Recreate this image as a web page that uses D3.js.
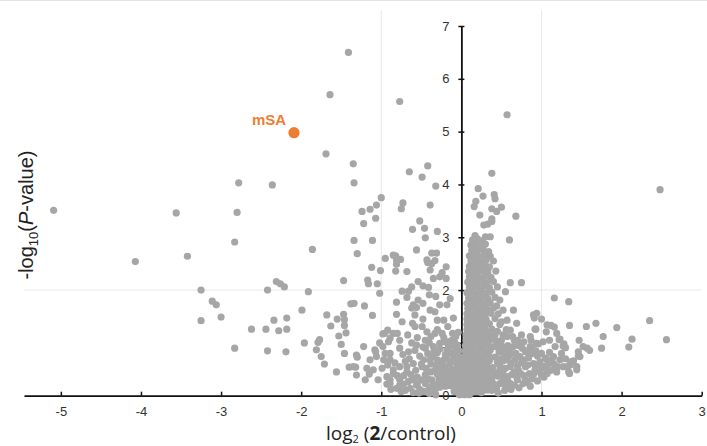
<!DOCTYPE html>
<html lang="en">
<head>
<meta charset="UTF-8">
<title>Volcano plot</title>
<style>
  body { margin: 0; background: #fff; }
  svg { display: block; }
</style>
</head>
<body>
<svg width="707" height="446"></svg>
<script src="https://d3js.org/d3.v7.min.js"></script>
<script>

const xTicks = [-5, -4, -3, -2, -1, 0, 1, 2, 3];
const yTicks = [0, 1, 2, 3, 4, 5, 6, 7];
const cutX = [-1, 1];   // vertical guide lines
const cutY = [2];       // horizontal guide line

// labelled protein
const labelled = [["mSA", -2.09, 4.98]];

// [log2 ratio, -log10 P]
const farPoints = [
  [-5.09,3.51],[-4.07,2.54],[-3.56,3.46],[-3.42,2.64],[-2.80,3.47],[-2.78,4.03],[-2.83,2.91],[-2.36,3.99],
  [-3.25,2.00],[-3.11,1.79],[-3.06,1.72],[-3.00,1.49],[-3.25,1.42],[-2.83,0.90],
  [-2.62,1.26],[-2.44,1.26],[-2.28,1.23],[-2.18,1.26],[-2.42,2.00],[-2.31,2.16],[-2.26,2.12],[-2.21,2.06],
  [-2.34,1.43],[-2.18,1.47],[-2.42,0.85],[-2.19,0.83],
  [-1.41,6.50],[-1.64,5.70],[-1.69,4.58],[-1.35,4.39],[-1.34,4.03],[-0.77,5.57],[0.57,5.32],[2.48,3.90]
];

const midLeftPoints = [
  [-1.86,2.77],[-1.91,1.97],[-1.99,1.62],[-1.96,1.00],[-1.77,1.06],[-1.79,1.01],[-1.81,0.87],[-1.75,0.74],
  [-1.71,0.60],[-1.68,1.53],[-1.63,1.32],[-1.55,1.45],[-1.53,1.13],[-1.56,0.45],[-1.50,0.97],[-1.46,0.80],
  [-1.47,1.54],[-1.46,1.44],[-1.46,1.33],[-1.44,1.19],[-1.47,2.18],[-1.38,1.74],[-1.40,0.54],[-1.34,2.94],
  [-1.30,2.69],[-1.32,0.54],[-1.31,0.39],[-1.30,0.73],
  [-1.00,3.75],[-1.06,3.61],[-1.14,3.53],[-1.24,3.49],[-1.07,3.36],[-1.22,3.26],[-1.11,2.94],[-0.95,2.60],
  [-1.12,2.43],[-1.01,2.37],[-1.17,2.19],[-1.16,2.12],[-1.05,2.12],[-1.02,1.94],[-1.34,1.75],[-1.21,1.70],
  [-1.11,1.52],[-1.22,0.93],[-1.08,0.87],[-0.98,0.93],[-1.31,0.77],[-1.14,0.68],[-1.06,0.74],[-0.97,0.68],
  [-1.35,0.55],[-1.18,0.52],[-1.10,0.49],[-0.99,0.52],[-0.93,0.36],[-1.15,0.41],[-1.07,0.83],[-1.02,1.00],
  [-0.96,1.18],[-0.92,1.24],[-0.98,1.17],[-0.93,0.22],[-1.04,0.30],[-1.20,0.30]
];

const nearLeftPoints = [
  [-0.73,3.65],[-0.75,3.54],[-0.65,4.24],[-0.49,4.14],[-0.42,4.35],[-0.32,3.97],[-0.39,3.61],[-0.52,3.31],
  [-0.61,3.15],[-0.46,3.17],[-0.30,3.11],[-0.45,2.99],[-0.56,2.76],[-0.37,2.70],[-0.31,2.70],
  [-0.43,2.57],[-0.33,2.56],[-0.42,2.52],[-0.37,2.50],[-0.19,2.44],[-0.82,2.65],[-0.81,2.57],[-0.76,2.58],
  [-0.81,2.49],[-0.85,2.66],[-0.68,2.35],[-0.82,2.36],[-0.39,2.38],[-0.27,2.25],[-0.24,2.33],[-0.19,2.22],
  [-0.35,2.22],[-0.74,1.98],[-0.66,1.98],[-0.62,2.06],[-0.54,2.16],[-0.48,2.08],[-0.41,2.05],[-0.54,1.81],
  [-0.68,1.86],[-0.48,1.75],[-0.56,1.67],[-0.40,1.91],[-0.32,1.88],[-0.39,1.62],[-0.27,1.72],[-0.18,1.72],
  [-0.14,1.84],[-0.10,1.47],[-0.17,1.31],[-0.11,1.18],[-0.22,1.43],[-0.30,1.43],[-0.33,1.59],[-0.81,1.77],
  [-0.81,1.54],[-0.74,1.40],[-0.62,1.66],[-0.60,1.72],[-0.58,1.53],[-0.61,1.37],[-0.85,1.18],[-0.89,1.09],
  [-0.77,1.05],[-0.67,1.15],[-0.58,1.31],[-0.49,1.31],[-0.43,1.21],[-0.33,1.18],[-0.24,1.18],[-0.17,1.02],
  [-0.80,1.18],[-0.91,1.02],[-0.89,0.80],[-0.77,0.90],[-0.66,0.83],[-0.56,0.96],[-0.45,0.90],[-0.35,0.93],
  [-0.27,0.99],[-0.18,0.87],[-0.12,0.80],[-0.85,0.42],[-0.77,0.55],[-0.68,0.45],[-0.60,0.61],[-0.49,0.55],
  [-0.39,0.68],[-0.31,0.58],[-0.22,0.68],[-0.14,0.61],[-0.08,0.74],[-0.89,0.23],[-0.77,0.20],[-0.66,0.27],
  [-0.56,0.20],[-0.45,0.23],[-0.37,0.30],[-0.29,0.23],[-0.20,0.33],[-0.14,0.19],[-0.08,0.27],[-0.06,0.14],
  [0.00,0.08],[-0.09,0.08],[-0.89,0.68],[-0.85,0.49],[-0.89,0.30],[-0.77,0.30],[-0.60,0.30],[-0.64,0.14],
  [-0.81,0.14],[-0.70,0.65],[-0.72,0.38],[-0.52,0.75],[-0.62,1.00],[-0.55,1.10],[-0.45,1.05],[-0.38,1.12],
  [-0.30,1.25],[-0.48,1.45],[-0.05,0.95],[-0.03,0.85],[-0.08,0.90],[-0.02,0.72],[-0.05,0.60],[-0.10,0.50],
  [-0.04,0.45],[-0.18,0.45],[-0.25,0.50],[-0.12,0.35],[-0.02,0.32],[-0.06,0.20],[-0.20,0.18],[-0.27,0.16],
  [-0.33,0.10],[-0.40,0.15],[-0.47,0.08],[-0.52,0.12],[-0.30,0.40],[-0.38,0.45],[-0.45,0.40],[-0.55,0.35],
  [-0.50,0.60],[-0.42,0.80],[-0.30,0.82],[-0.20,0.78],[-0.12,1.05],[-0.07,1.12],[-0.04,1.20],[-0.35,0.75],
  [-0.28,0.62],[-0.15,0.27],[-0.03,0.03],[-0.60,0.06],[-0.70,0.10],
  [-0.40,0.04],[-0.02,0.58],[-0.15,0.95],[-0.22,1.10],[-0.10,0.68],
  [-0.95,0.80],[-0.92,0.58],[-0.88,0.12],[-0.83,0.62],[-0.80,0.38],[-0.75,0.08],[-0.73,0.78],[-0.72,0.22],
  [-0.68,0.55],[-0.65,0.70],[-0.63,0.40],[-0.58,0.86],[-0.57,0.48],[-0.55,0.22],[-0.53,0.05],[-0.50,0.30],
  [-0.48,0.92],[-0.47,0.68],[-0.44,0.52],[-0.42,0.32],[-0.40,1.00],[-0.38,0.60],[-0.36,0.20],[-0.34,0.85],
  [-0.33,0.48],[-0.32,0.02],[-0.30,0.68],[-0.28,0.30],[-0.27,0.88],[-0.25,0.40],[-0.24,0.58],[-0.23,0.25],
  [-0.21,1.02],[-0.20,0.55],[-0.18,0.70],[-0.17,0.35],[-0.15,0.82],[-0.13,0.48],
  [-0.11,0.65],[-0.09,0.40],[-0.08,1.00],[-0.07,0.30],[-0.06,0.80],[-0.04,0.55],[-0.03,0.68],
  [-0.02,0.22],[-0.01,0.40]
];

const columnPoints = [
  [0.14,2.95],[0.20,2.97],[0.26,2.93],
  [0.12,2.85],[0.18,2.86],[0.24,2.83],[0.30,2.87],
  [0.13,2.75],[0.20,2.74],[0.27,2.77],[0.34,2.73],
  [0.10,2.65],[0.16,2.66],[0.22,2.63],[0.28,2.66],[0.36,2.64],
  [0.12,2.55],[0.19,2.56],[0.25,2.53],[0.31,2.57],[0.40,2.55],
  [0.10,2.45],[0.16,2.46],[0.22,2.43],[0.29,2.47],[0.35,2.44],
  [0.09,2.35],[0.15,2.36],[0.21,2.33],[0.27,2.37],[0.33,2.34],[0.43,2.36],
  [0.10,2.25],[0.17,2.26],[0.23,2.23],[0.30,2.27],[0.37,2.24],
  [0.08,2.15],[0.14,2.16],[0.20,2.13],[0.26,2.17],[0.32,2.14],[0.40,2.16],
  [0.10,2.05],[0.16,2.06],[0.22,2.03],[0.28,2.07],[0.35,2.04],[0.45,2.06],
  [0.07,1.95],[0.13,1.96],[0.19,1.93],[0.25,1.97],[0.31,1.94],[0.38,1.96],
  [0.09,1.85],[0.15,1.86],[0.21,1.83],[0.27,1.87],[0.33,1.84],[0.42,1.86],
  [0.07,1.75],[0.12,1.76],[0.18,1.73],[0.24,1.77],[0.30,1.74],[0.36,1.76],
  [0.08,1.65],[0.14,1.66],[0.20,1.63],[0.26,1.67],[0.32,1.64],[0.40,1.66],
  [0.07,1.55],[0.12,1.56],[0.18,1.53],[0.24,1.57],[0.30,1.54],[0.37,1.56],[0.46,1.55],
  [0.07,1.45],[0.13,1.46],[0.19,1.43],[0.25,1.47],[0.31,1.44],[0.42,1.46],
  [0.07,1.35],[0.11,1.36],[0.17,1.33],[0.23,1.37],[0.29,1.34],[0.35,1.36],[0.48,1.35],
  [0.07,1.25],[0.12,1.26],[0.18,1.23],[0.24,1.27],[0.30,1.24],[0.38,1.26],[0.45,1.22],
  [0.06,1.15],[0.10,1.16],[0.16,1.13],[0.22,1.17],[0.28,1.14],[0.34,1.16],[0.52,1.15],
  [0.06,1.05],[0.11,1.06],[0.17,1.03],[0.23,1.07],[0.29,1.04],[0.36,1.06],[0.44,1.03],[0.70,1.05],
  [0.05,0.95],[0.09,0.96],[0.15,0.93],[0.21,0.97],[0.27,0.94],[0.33,0.96],[0.40,0.93],[0.50,0.95],
  [0.05,0.85],[0.11,0.86],[0.17,0.83],[0.23,0.87],[0.29,0.84],[0.36,0.86],[0.47,0.83],[0.55,0.86],
  [0.04,0.75],[0.09,0.76],[0.15,0.73],[0.21,0.77],[0.27,0.74],[0.34,0.76],[0.42,0.73],[0.60,0.76],
  [0.04,0.65],[0.10,0.66],[0.16,0.63],[0.22,0.67],[0.28,0.64],[0.35,0.66],[0.45,0.63],[0.52,0.66],
  [0.02,0.55],[0.08,0.56],[0.14,0.53],[0.20,0.57],[0.26,0.54],[0.32,0.56],[0.39,0.53],[0.48,0.57],
  [0.04,0.45],[0.10,0.46],[0.16,0.43],[0.22,0.47],[0.28,0.44],[0.35,0.46],[0.42,0.43],[0.52,0.47],
  [0.02,0.35],[0.08,0.36],[0.14,0.33],[0.20,0.37],[0.26,0.34],[0.32,0.36],[0.38,0.33],[0.46,0.37],
  [0.03,0.25],[0.09,0.26],[0.15,0.23],[0.21,0.27],[0.27,0.24],[0.33,0.26],[0.40,0.23],[0.52,0.27],
  [0.02,0.15],[0.08,0.16],[0.14,0.13],[0.20,0.17],[0.26,0.14],[0.33,0.16],[0.42,0.13],
  [0.02,0.07],[0.07,0.08],[0.12,0.06],[0.18,0.08],[0.25,0.06],[-0.02,0.02],[0.04,0.02],[0.10,0.02]
];

const rightPoints = [
  [0.38,4.21],[0.21,3.92],[0.27,3.78],[0.18,3.68],[0.41,3.81],[0.42,3.73],[0.38,3.54],[0.44,3.49],
  [0.50,3.57],[0.23,3.42],[0.68,3.40],[0.38,3.35],[0.16,3.58],[0.38,3.30],[0.33,3.25],[0.28,3.23],
  [0.60,2.95],[0.17,3.03],[0.30,3.01],[0.36,3.01],
  [0.61,2.14],[0.75,2.14],[0.55,1.97],[0.48,1.81],[0.52,1.62],[0.65,1.62],[0.57,1.43],[0.69,1.37],
  [0.61,1.24],[0.75,1.15],[0.86,1.12],[0.92,1.26],[1.07,1.34],[1.16,1.30],[1.19,1.18],[1.23,1.07],
  [1.27,0.94],[1.10,1.05],[1.02,1.02],[0.94,0.99],[0.86,0.93],[0.80,0.83],[0.73,0.74],[0.67,0.68],
  [0.61,0.55],[0.71,0.49],[0.80,0.55],[0.90,0.61],[0.98,0.64],[1.07,0.68],[1.15,0.61],[1.23,0.68],
  [1.32,0.55],[1.36,0.64],[1.34,0.45],[1.44,0.55],[1.46,0.83],[1.48,0.74],[1.52,0.93],[1.57,0.90],
  [1.47,1.05],[1.77,1.12],[1.75,0.90],[0.57,1.12],[0.65,0.93],[0.50,0.83],[0.57,0.68],[0.48,0.49],
  [0.57,0.36],[0.69,0.36],[0.77,0.23],[0.61,0.23],[0.48,0.23],[0.44,0.14],[0.32,0.11],[0.19,0.08],
  [1.16,1.85],[1.34,1.78],[0.90,1.53],[0.94,1.56],[0.91,1.47],[1.00,1.45],[1.12,1.33],[0.93,1.26],
  [1.06,1.21],[1.35,1.33],[1.56,1.31],[1.68,1.37],[1.94,1.29],[2.35,1.42],[2.56,1.06],[2.13,1.07],
  [2.09,0.92],[1.22,1.06],[1.28,0.98],[1.30,0.91],[1.17,0.93],[1.60,0.86],[1.46,0.75],[1.36,0.58],
  [1.44,0.49],[1.35,0.42],[1.15,0.74],[1.13,0.69],[1.05,0.71],[0.96,0.98],[0.88,0.91],[0.82,0.85],
  [1.27,0.55],[1.17,0.49],[1.19,0.45],[0.98,0.61],[1.05,0.52],[1.07,0.42],[1.00,0.39],
  [0.72,0.95],[0.78,1.02],[0.66,1.05],[0.84,0.72],[0.88,0.80],[0.95,0.75],[0.92,0.50],[0.85,0.42],
  [0.78,0.38],[0.98,0.45],[1.02,0.55],[0.75,0.62],[0.70,0.30],[0.82,0.25],[0.62,0.12],[0.55,0.18],
  [0.44,1.70],[0.50,1.40],[0.40,1.10],[0.58,0.95],[0.62,0.80],[0.46,0.70],[0.66,0.45],[0.88,0.32],
  [0.42,1.15],[0.45,0.92],[0.47,0.60],[0.50,0.38],[0.50,1.05],[0.53,0.75],[0.54,0.10],[0.55,0.52],
  [0.56,1.25],[0.58,0.28],[0.60,0.88],[0.62,0.62],[0.63,0.40],[0.64,1.12],[0.66,0.20],[0.68,0.80],
  [0.70,0.56],[0.72,0.15],[0.74,0.42],[0.76,0.90],[0.78,0.68],[0.80,0.30],[0.83,0.58],[0.86,0.18],
  [0.87,1.05],[0.90,0.40],[0.93,0.85],[0.95,0.28],[0.97,0.55],[1.00,0.80],[1.03,0.35],[1.08,0.60],
  [1.10,0.82],[1.12,0.48],[1.20,0.55],[1.25,0.80],[1.30,0.70],[1.40,0.66],[0.38,0.10],[0.46,0.05]
];

const grayPoints = [].concat(farPoints, midLeftPoints, nearLeftPoints, columnPoints, rightPoints);

const width = 707, height = 446;
const svg = d3.select("svg");

const x = d3.scaleLinear().domain([-5.46, 3]).range([24, 701.7]);
const y = d3.scaleLinear().domain([0, 7]).range([395.7, 26]);

// white background + thin top border like the screenshot
svg.append("rect").attr("width", width).attr("height", height).attr("fill", "#fff");
svg.append("line")
  .attr("x1", 0).attr("x2", width).attr("y1", 0.5).attr("y2", 0.5)
  .attr("stroke", "#e2e2e2");

// guide lines
svg.selectAll(".vguide")
  .data(cutX)
  .enter()
  .append("line")
  .attr("class", "vguide")
  .attr("x1", d => x(d)).attr("x2", d => x(d))
  .attr("y1", y(7.3)).attr("y2", y(0))
  .attr("stroke", "#e8e8e8").attr("stroke-width", 1);

svg.selectAll(".hguide")
  .data(cutY)
  .enter()
  .append("line")
  .attr("class", "hguide")
  .attr("x1", x(-5.46)).attr("x2", x(3))
  .attr("y1", d => y(d)).attr("y2", d => y(d))
  .attr("stroke", "#e8e8e8").attr("stroke-width", 1);

// x axis
const xAxis = svg.append("g")
  .attr("transform", `translate(0,${y(0)})`)
  .call(d3.axisBottom(x).tickValues(xTicks).tickFormat(d => String(d))
    .tickSizeInner(-4).tickSizeOuter(0).tickPadding(11));

// y axis, sitting at x = 0
const yAxis = svg.append("g")
  .attr("transform", `translate(${x(0)},0)`)
  .call(d3.axisLeft(y).tickValues(yTicks).tickFormat(d => String(d))
    .tickSizeInner(3).tickSizeOuter(0).tickPadding(9));
yAxis.selectAll(".tick line").attr("x1", 3);

[xAxis, yAxis].forEach(a => {
  a.select(".domain").attr("stroke", "#111").attr("stroke-width", 1.8);
  a.selectAll(".tick line").attr("stroke", "#111").attr("stroke-width", 1.5);
  a.selectAll("text")
    .attr("fill", "#333")
    .style("font-family", "'Liberation Sans', Arial, sans-serif")
    .style("font-size", "13px");
});

// proteins
svg.append("g")
  .selectAll("circle")
  .data(grayPoints)
  .enter()
  .append("circle")
  .attr("cx", d => x(d[0]))
  .attr("cy", d => y(d[1]))
  .attr("r", 3.6)
  .attr("fill", "#a6a6a6");

// highlighted protein
svg.append("g")
  .selectAll("circle")
  .data(labelled)
  .enter()
  .append("circle")
  .attr("cx", d => x(d[1]))
  .attr("cy", d => y(d[2]))
  .attr("r", 5.6)
  .attr("fill", "#ed7d31");

svg.append("g")
  .selectAll("text")
  .data(labelled)
  .enter()
  .append("text")
  .attr("x", d => x(d[1]) - 42)
  .attr("y", d => y(d[2]) - 8)
  .attr("fill", "#ed7d31")
  .style("font-family", "'Liberation Sans', Arial, sans-serif")
  .style("font-size", "15px")
  .style("font-weight", "bold")
  .text(d => d[0]);

// axis titles
const xTitle = svg.append("text")
  .attr("x", 326)
  .attr("y", 439.5)
  .attr("fill", "#222")
  .style("font-family", "'Open Sans', 'Noto Sans', sans-serif")
  .style("font-size", "19px");
xTitle.append("tspan").text("log");
xTitle.append("tspan").attr("dy", 3).style("font-size", "11px").text("2");
xTitle.append("tspan").attr("dy", -3).text(" (");
xTitle.append("tspan").style("font-weight", "bold").text("2");
xTitle.append("tspan").text("/control)");

const yTitle = svg.append("text")
  .attr("transform", "translate(33,215) rotate(-90)")
  .attr("text-anchor", "middle")
  .attr("fill", "#222")
  .style("font-family", "'Liberation Sans', Arial, sans-serif")
  .style("font-size", "20px");
yTitle.append("tspan").text("-log");
yTitle.append("tspan").attr("dy", 5).style("font-size", "13px").text("10");
yTitle.append("tspan").attr("dy", -5).text("(");
yTitle.append("tspan").style("font-style", "italic").text("P");
yTitle.append("tspan").text("-value)");

</script>
</body>
</html>
